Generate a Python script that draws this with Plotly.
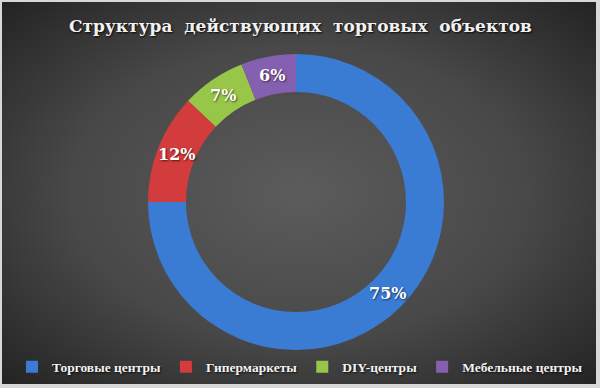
import base64
import math
import plotly.graph_objects as go

categories = ["Торговые центры", "Гипермаркеты", "DIY-центры", "Мебельные центры"]
values = [75, 12, 7, 6]
colors = ["#3a7bd3", "#d23c3c", "#98c648", "#8560b0"]
title_text = "Структура  действующих  торговых  объектов"

W, H = 600, 388
# donut geometry (pixels)
CX, CY, R_OUT, R_IN = 296, 202, 148, 110

svg = f'''<svg xmlns="http://www.w3.org/2000/svg" width="{W}" height="{H}" viewBox="0 0 {W} {H}" preserveAspectRatio="none">
<defs><radialGradient id="g" cx="50%" cy="50%" r="70%">
<stop offset="0%" stop-color="#5c5c5c"/><stop offset="55%" stop-color="#484848"/><stop offset="100%" stop-color="#242424"/>
</radialGradient></defs>
<rect x="0" y="0" width="{W}" height="{H}" fill="url(#g)"/></svg>'''
bg = "data:image/svg+xml;base64," + base64.b64encode(svg.encode()).decode()

fig = go.Figure(go.Pie(
    labels=categories, values=values, hole=R_IN / R_OUT, sort=False,
    direction="clockwise", rotation=0,
    marker=dict(colors=colors, line=dict(width=0)),
    textinfo="none",
    hoverinfo="label+percent",
    domain=dict(x=[(CX - R_OUT) / W, (CX + R_OUT) / W],
                y=[(H - CY - R_OUT) / H, (H - CY + R_OUT) / H]),
    showlegend=True,
))

# percentage labels at mid-angle, mid-ring of each slice (derived from values)
total = sum(values)
annotations = []
cum = 0
r_mid = (R_OUT + R_IN) / 2
for v in values:
    mid = (cum + v / 2) / total * 2 * math.pi
    cum += v
    px = CX + r_mid * math.sin(mid)
    py = CY - r_mid * math.cos(mid)
    annotations.append(dict(
        text=f"{round(v / total * 100)}%", x=px / W, y=1 - py / H,
        xref="paper", yref="paper", showarrow=False,
        xanchor="center", yanchor="middle",
        font=dict(family="DejaVu Serif", size=16, color="white", weight="bold",
                  shadow="1px 1px 2px rgba(0,0,0,0.6)")))

annotations.append(dict(
    text=title_text, x=0.5, y=1 - 26 / H, xref="paper", yref="paper",
    showarrow=False, xanchor="center", yanchor="middle",
    font=dict(family="DejaVu Serif", size=17, color="#f2f2f2", weight="bold",
              shadow="1px 1px 2px rgba(0,0,0,0.9)")))

fig.update_layout(
    width=W, height=H, margin=dict(l=0, r=0, t=0, b=0, autoexpand=False),
    paper_bgcolor="#d8d8d8", plot_bgcolor="rgba(0,0,0,0)",
    images=[dict(source=bg, xref="paper", yref="paper", x=2 / W, y=1 - 2 / H,
                 sizex=594 / W, sizey=382 / H, sizing="stretch", layer="below",
                 xanchor="left", yanchor="top")],
    annotations=annotations,
    legend=dict(orientation="h", x=0.5, xanchor="center", y=21 / H, yanchor="middle",
                font=dict(family="Liberation Serif", size=13.5, color="#f2f2f2", weight="bold",
                          shadow="1px 1px 2px rgba(0,0,0,0.8)"),
                bgcolor="rgba(0,0,0,0)", itemwidth=30, tracegroupgap=0),
)
fig.write_html("out.html", config={"displayModeBar": False},
               post_script="document.body.style.margin='0';document.body.style.padding='0';")
